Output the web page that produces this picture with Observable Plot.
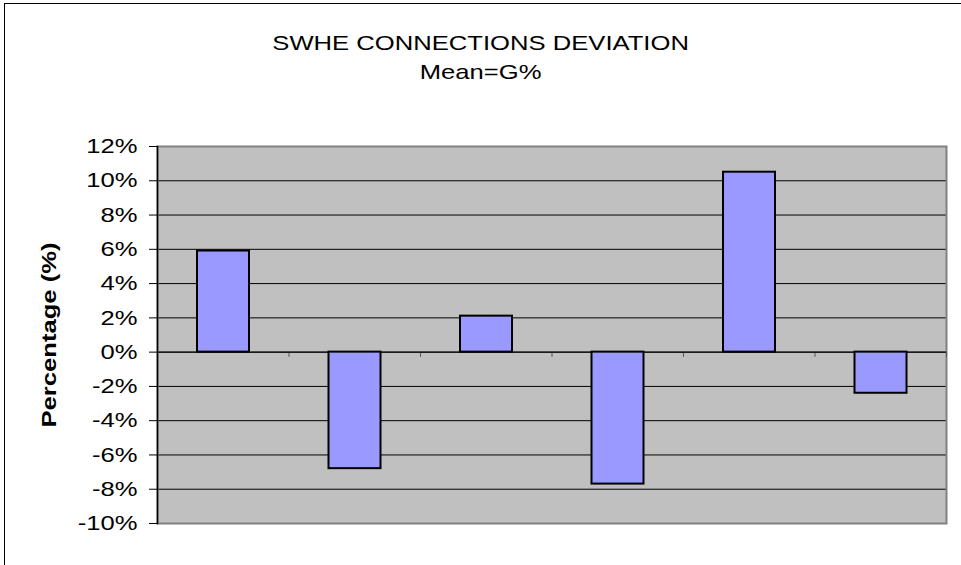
<!DOCTYPE html>
<html>
<head>
<meta charset="utf-8">
<script src="https://cdn.jsdelivr.net/npm/d3@7"></script>
<script src="https://cdn.jsdelivr.net/npm/@observablehq/plot@0.6"></script>
<style>
  html, body { margin: 0; padding: 0; background: #fff; overflow: hidden; }
  #wrap { position: relative; width: 961px; height: 565px; overflow: hidden; font-family: Arial, "Liberation Sans", sans-serif; }
  #border { position: absolute; left: 4px; top: 3px; width: 1200px; height: 1200px; border: 1.5px solid #000; box-sizing: border-box; }
  .title { position: absolute; left: 0; width: 961px; text-align: center; font-size: 21px; line-height: 21px; color: #000; transform: scaleX(1.22); transform-origin: 480px 50%; }
  #ylabel { position: absolute; left: 48px; top: 335px; font-size: 21px; font-weight: bold; line-height: 21px; white-space: nowrap; transform: translate(-50%, -50%) rotate(-90deg) scaleX(1.22); }
  #chart { position: absolute; left: 0; top: 0; }
</style>
</head>
<body>
<div id="wrap">
  <div id="border"></div>
  <div id="chart"></div>
  <div class="title" style="top:32px">SWHE CONNECTIONS DEVIATION</div>
  <div class="title" style="top:61px">Mean=G%</div>
  <div id="ylabel">Percentage (%)</div>
</div>
<script>
const categories = ["1", "2", "3", "4", "5", "6"];
const values = [5.9, -6.8, 2.1, -7.7, 10.5, -2.4];
const yTicks = [-10, -8, -6, -4, -2, 0, 2, 4, 6, 8, 10, 12];
const boundaries = [1, 2, 3, 4, 5, 6];

const data = categories.map((c, i) => ({cat: c, i, value: values[i]}));

const chart = Plot.plot({
  width: 961,
  height: 565,
  marginLeft: 157,
  marginRight: 15,
  marginTop: 146,
  marginBottom: 42,
  style: {fontFamily: "Arial, 'Liberation Sans', sans-serif", background: "transparent", overflow: "visible"},
  x: {type: "linear", domain: [0, categories.length], axis: null},
  y: {domain: [-10, 12], axis: null},
  marks: [
    Plot.frame({fill: "#C0C0C0", stroke: null}),
    Plot.ruleY(yTicks.filter(d => d > -10 && d < 12), {stroke: "#000", strokeWidth: 1}),
    Plot.frame({stroke: "#808080", strokeWidth: 2}),
    Plot.ruleX(boundaries, {x: d => d, y1: 0, y2: -0.3, stroke: "#555", strokeWidth: 1}),
    Plot.ruleY([0], {stroke: "#000", strokeWidth: 1}),
    Plot.rectY(data, {x1: "i", x2: d => d.i + 1, y1: 0, y2: "value", insetLeft: 40, insetRight: 39.5, fill: "#9999FF", stroke: "#000", strokeWidth: 2}),
    Plot.axisY({ticks: yTicks, label: null, tickFormat: d => d + "%", tickSize: 8, tickPadding: 12, fontSize: 21, stroke: "#000", fill: "#000"}),
    Plot.frame({anchor: "left", stroke: "#000", strokeWidth: 1.5})
  ]
});
// stretch tick labels horizontally like the original (wide rendering)
chart.querySelectorAll('g[aria-label="y-axis tick label"] text').forEach(t => {
  const tr = t.getAttribute("transform");
  if (tr) {
    t.setAttribute("transform", tr + " scale(1.22,1)");
  } else {
    const x = +t.getAttribute("x") || 0, y = +t.getAttribute("y") || 0;
    t.setAttribute("transform", `translate(${x},${y}) scale(1.22,1) translate(${-x},${-y})`);
  }
});
document.getElementById("chart").appendChild(chart);
</script>
</body>
</html>
